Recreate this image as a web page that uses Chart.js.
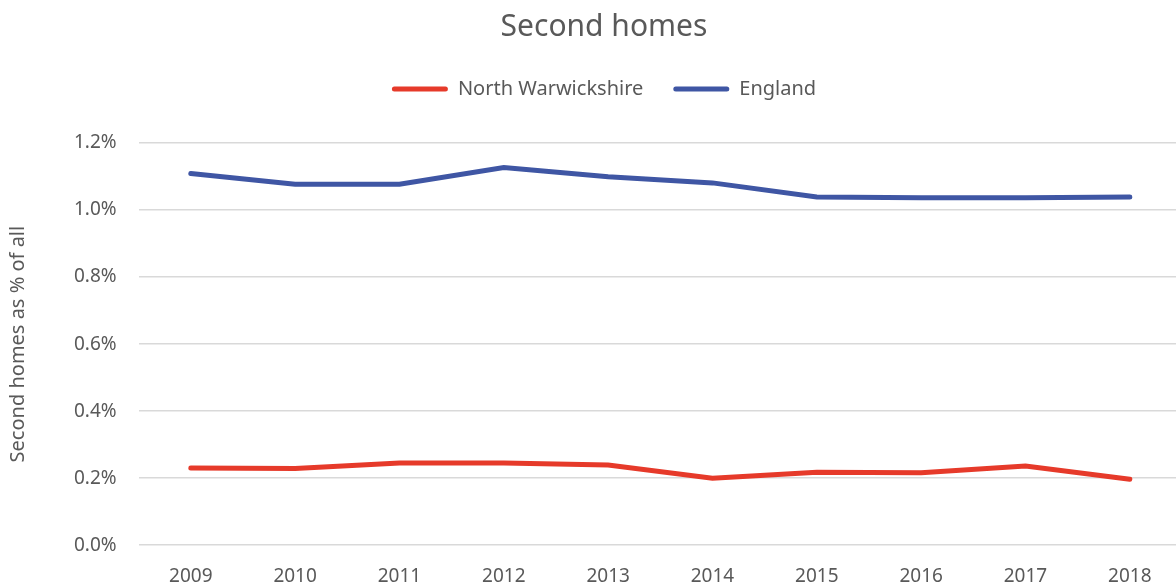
<!DOCTYPE html>
<html lang="en">
<head>
  <meta charset="UTF-8" />
  <title>Second homes</title>
  <script src="https://cdn.jsdelivr.net/npm/chart.js"></script>
  <style>
    * { margin: 0; padding: 0; box-sizing: border-box; }
    html, body { background: #fff; width: 1176px; height: 588px; overflow: hidden; }
    .chart-wrap { width: 1190px; height: 600px; position: relative; }
  </style>
</head>
<body>
  <div class="chart-wrap">
    <canvas id="homesChart"></canvas>
  </div>

  <script>
    // values (percent of all dwellings)
    const years = ["2009","2010","2011","2012","2013","2014","2015","2016","2017","2018"];
    const northWarwickshire = [0.230, 0.229, 0.245, 0.245, 0.239, 0.200, 0.218, 0.216, 0.236, 0.197];
    const england = [1.109, 1.077, 1.077, 1.127, 1.099, 1.081, 1.039, 1.037, 1.037, 1.039];
    const yTicks = [0, 0.2, 0.4, 0.6, 0.8, 1.0, 1.2];

    const grey = "#595959";
    const fontFam = "'Noto Sans', 'Open Sans', sans-serif";

    // extra room under the legend, and title + legend nudged right a bit
    const headerTweak = {
      id: "headerTweak",
      beforeInit(chart) {
        const fit = chart.legend.fit;
        chart.legend.fit = function () {
          fit.bind(chart.legend)();
          this.height += 34;
        };
      },
      afterLayout(chart) {
        [chart.titleBlock, chart.legend].forEach(b => { b.left += 10; b.right += 10; });
      }
    };

    new Chart(document.getElementById("homesChart"), {
      type: "line",
      data: {
        labels: years,
        datasets: [
          { label: "North Warwickshire", data: northWarwickshire, borderColor: "#e63a2a", backgroundColor: "#e63a2a",
            borderWidth: 5, pointRadius: 0, borderCapStyle: "round", tension: 0 },
          { label: "England", data: england, borderColor: "#3f56a4", backgroundColor: "#3f56a4",
            borderWidth: 5, pointRadius: 0, borderCapStyle: "round", tension: 0 }
        ]
      },
      options: {
        responsive: true,
        maintainAspectRatio: false,
        animation: false,
        layout: { padding: { top: 6, right: 8, left: 6, bottom: 0 } },
        plugins: {
          title: { display: true, text: "Second homes", color: grey,
            font: { family: fontFam, size: 30, weight: "normal" }, padding: { top: 3, bottom: 4 } },
          legend: {
            position: "top",
            labels: {
              color: grey, font: { family: fontFam, size: 20 }, boxWidth: 56, boxHeight: 5, padding: 30,
              useBorderRadius: true, borderRadius: 2.5,
              generateLabels: chart => Chart.defaults.plugins.legend.labels.generateLabels(chart)
                .map(item => ({ ...item, lineWidth: 0 }))
            }
          },
          tooltip: { enabled: false }
        },
        scales: {
          x: {
            offset: true,
            grid: { display: false },
            border: { display: false },
            ticks: { color: grey, font: { family: fontFam, size: 19 }, padding: 12, maxRotation: 0 }
          },
          y: {
            min: 0, max: 1.2,
            afterBuildTicks: axis => { axis.ticks = yTicks.map(v => ({ value: v })); },
            grid: { color: "#d9d9d9", lineWidth: 1.5, drawTicks: false },
            border: { display: false },
            ticks: { color: grey, font: { family: fontFam, size: 19 }, padding: 22,
              callback: v => v.toFixed(1) + "%" },
            title: { display: true, text: "Second homes as % of all", color: grey,
              font: { family: fontFam, size: 20 }, padding: { top: 0, bottom: 22 } }
          }
        }
      },
      plugins: [headerTweak]
    });
  </script>
</body>
</html>
